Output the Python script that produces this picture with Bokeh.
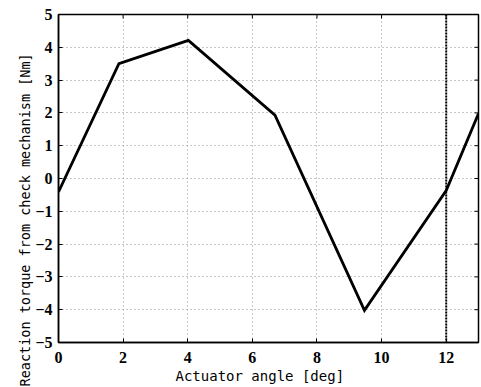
from bokeh.plotting import figure
from bokeh.models import Range1d, Span, FixedTicker, Title
from bokeh.embed import file_html
from bokeh.resources import INLINE

angle_deg = [0.0, 1.87, 4.02, 6.70, 9.47, 12.0, 13.0]
torque_nm = [-0.41, 3.50, 4.21, 1.93, -4.02, -0.37, 1.98]
x_ticks = [0, 2, 4, 6, 8, 10, 12]
y_ticks = [-5, -4, -3, -2, -1, 0, 1, 2, 3, 4, 5]
marker_angle = 12.0
x_label = "Actuator angle [deg]"
y_label = "Reaction torque from check mechanism [Nm]"

X0, X1, Y0, Y1 = 0, 13, -5, 5
FW, FH = 420, 328

p = figure(width=481, height=387, output_backend="svg", toolbar_location=None,
           x_range=Range1d(X0, X1), y_range=Range1d(Y0, Y1))
p.frame_width = FW
p.frame_height = FH
p.min_border_left = 58
p.min_border_right = 3
p.min_border_top = 14
p.min_border_bottom = 45
p.background_fill_color = "white"
p.border_fill_color = "white"
p.outline_line_color = "black"
p.outline_line_width = 1.5

tick_font = "Liberation Sans Narrow"
for ax in (p.xaxis[0], p.yaxis[0]):
    ax.major_tick_in = 4
    ax.major_tick_out = 0
    ax.minor_tick_in = 0
    ax.minor_tick_out = 0
    ax.major_tick_line_width = 1
    ax.axis_line_color = "black"
    ax.axis_line_width = 1.5
    ax.major_label_text_font = tick_font
    ax.major_label_text_font_style = "bold"
    ax.major_label_text_font_size = "16px"
    ax.major_label_text_color = "black"
p.xaxis[0].ticker = FixedTicker(ticks=x_ticks)
p.yaxis[0].ticker = FixedTicker(ticks=y_ticks)
p.xaxis[0].major_label_standoff = 9
p.yaxis[0].major_label_standoff = 6

p.xgrid.ticker = FixedTicker(ticks=x_ticks)
p.ygrid.ticker = FixedTicker(ticks=y_ticks)
for g in (p.xgrid[0], p.ygrid[0]):
    g.grid_line_color = "#909090"
    g.grid_line_dash = "1 3"
    g.grid_line_width = 1

# inward ticks on the top and right edges (boxed axes)
tx = 4 * (Y1 - Y0) / FH
ty = 4 * (X1 - X0) / FW
p.segment(x0=x_ticks, y0=[Y1] * len(x_ticks), x1=x_ticks, y1=[Y1 - tx] * len(x_ticks),
          line_color="black", line_width=1)
p.segment(x0=[X1] * len(y_ticks), y0=y_ticks, x1=[X1 - ty] * len(y_ticks), y1=y_ticks,
          line_color="black", line_width=1)

p.add_layout(Span(location=marker_angle, dimension="height", line_color="black",
                  line_width=2, line_dash="2 1"))

p.line(angle_deg, torque_nm, line_color="black", line_width=2.8, line_join="miter")

p.add_layout(Title(text=x_label, align="left", offset=117, text_font="DejaVu Sans Mono",
                   text_font_size="14px", text_font_style="normal", text_color="black",
                   standoff=0), "below")
p.add_layout(Title(text=y_label, align="left", offset=-44, text_font="DejaVu Sans Mono",
                   text_font_size="13.5px", text_font_style="normal", text_color="black",
                   standoff=0), "left")

open("out.html", "w").write(file_html(p, INLINE))
